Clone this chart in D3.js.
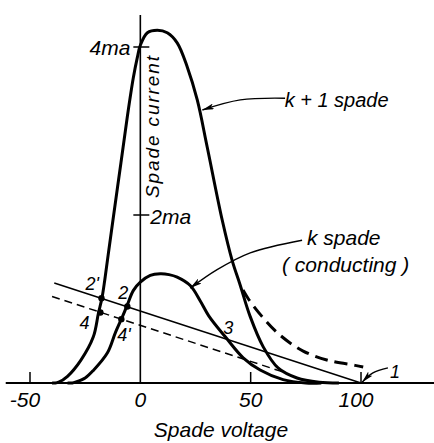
<!DOCTYPE html>
<html><head><meta charset="utf-8">
<script src="https://cdn.jsdelivr.net/npm/d3@7"></script>
<style>
body{margin:0;background:#fff}
svg{display:block}
text{font-family:"Liberation Sans",Arial,sans-serif;font-style:italic;fill:#000}
</style>
</head><body><svg id="c" width="434" height="443"></svg>
<script>
// ---- data (spade voltage in V, spade current in mA) ----
const kPlus1Volts   = [-40, -38.5, -37, -33, -27, -21.3, -19, -17.4, -16.1, -14.5, -12.4, -8.8, -5.9, -3.2, -1.4, 0, 3.2, 7.7, 12.2, 16.7, 21.3, 25.8, 30.3, 37.1, 41.6, 45.2, 49.8, 55.7, 62.4, 71, 81, 90];
const kPlus1Current = [0, 0, 0.01, 0.08, 0.27, 0.55, 0.83, 1.01, 1.23, 1.54, 1.94, 2.62, 3.17, 3.63, 3.87, 4.02, 4.17, 4.2, 4.17, 4.05, 3.76, 3.37, 2.81, 1.94, 1.46, 1.17, 0.79, 0.43, 0.18, 0.06, 0.01, 0];
const kPlus1AltVolts   = [45.2, 49, 55.2, 63.3, 73.8, 85.1, 97.3, 101];
const kPlus1AltCurrent = [1.17, 1.0, 0.79, 0.57, 0.38, 0.27, 0.21, 0.19];
const kVolts   = [-33, -30.8, -29.4, -25, -21.3, -14.9, -11.3, -8.1, -5.9, -3.2, 0, 4.5, 9, 13, 16.7, 22.6, 27.1, 31, 38.5, 46.6, 54.3, 64.7, 75, 82];
const kCurrent = [0, 0, 0.01, 0.06, 0.15, 0.36, 0.6, 0.79, 0.93, 1.1, 1.2, 1.28, 1.3, 1.29, 1.26, 1.16, 0.98, 0.8, 0.55, 0.3, 0.155, 0.04, 0, 0];
const loadLineVolts   = [-39, 100];
const loadLineCurrent = [1.19, 0];
const loadLine2Volts   = [-40, 66];
const loadLine2Current = [1.03, 0.12];
const pointNames   = ["2'", "2", "4", "4'", "3"];
const pointVolts   = [-17.6, -5.9, -18.1, -8.6, 36.2];
const pointCurrent = [1.01, 0.91, 0.84, 0.76, 0.55];
const pointDots    = [true, true, true, true, false];
const xTickValues = [-50, 0, 50, 100];
const xTickLabels = ["-50", "0", "50", "100"];
const yTickValues = [2, 4];
const yTickLabels = ["2ma", "4ma"];

// ---- layout ----
const svg = d3.select("#c");
const W = 434, H = 443;
const x = d3.scaleLinear().domain([-50, 100]).range([30, 361]);
const y = d3.scaleLinear().domain([0, 4]).range([383, 47]);

const defs = svg.append("defs");
defs.append("marker").attr("id","ah").attr("viewBox","0 0 12 6").attr("refX",12).attr("refY",3)
  .attr("markerWidth",12).attr("markerHeight",6).attr("markerUnits","userSpaceOnUse").attr("orient","auto")
  .append("path").attr("d","M0,0 L12,3 L0,6 L3,3 Z").attr("fill","#000");

const g = svg.append("g");
const zip = (a,b) => a.map((v,i)=>[v,b[i]]);
const line = d3.line().x(d=>x(d[0])).y(d=>y(d[1])).curve(d3.curveCatmullRom.alpha(0.5));
const straight = d3.line().x(d=>x(d[0])).y(d=>y(d[1]));

// axes
g.append("line").attr("x1",x(-61)).attr("x2",W).attr("y1",y(0)).attr("y2",y(0)).attr("stroke","#000").attr("stroke-width",2);
g.append("line").attr("x1",x(0)).attr("x2",x(0)).attr("y1",y(4.38)).attr("y2",y(0)).attr("stroke","#000").attr("stroke-width",1.6);
xTickValues.forEach((v,i)=>{
  if (v !== 0) g.append("line").attr("x1",x(v)).attr("x2",x(v)).attr("y1",y(0)-11).attr("y2",y(0)).attr("stroke","#000").attr("stroke-width",1.5);
  g.append("text").attr("x",x(v) + (v < 0 ? -5 : (v >= 100 ? -5 : 0))).attr("y",407).attr("text-anchor","middle").attr("font-size",21).text(xTickLabels[i]);
});
yTickValues.forEach((v,i)=>{
  g.append("line").attr("x1",x(0)-7).attr("x2",x(0)+9).attr("y1",y(v)).attr("y2",y(v)).attr("stroke","#000").attr("stroke-width",1.5);
  if (v === 4) g.append("text").attr("x",x(0)-10).attr("y",y(v)+8).attr("text-anchor","end").attr("font-size",21).text(yTickLabels[i]);
  else g.append("text").attr("x",x(0)+10).attr("y",y(v)+9).attr("text-anchor","start").attr("font-size",21).text(yTickLabels[i]);
});
g.append("text").attr("x",x(0)+19).attr("y",127).attr("transform",`rotate(-90 ${x(0)+19} 127)`).attr("text-anchor","middle")
  .attr("font-size",19).attr("textLength",142).attr("lengthAdjust","spacing").text("Spade current");
g.append("text").attr("x",221).attr("y",437).attr("text-anchor","middle").attr("font-size",21).text("Spade voltage");

// load lines
g.append("path").attr("d",straight(zip(loadLineVolts,loadLineCurrent))).attr("fill","none").attr("stroke","#000").attr("stroke-width",1.5);
g.append("path").attr("d",straight(zip(loadLine2Volts,loadLine2Current))).attr("fill","none").attr("stroke","#000").attr("stroke-width",1.5).attr("stroke-dasharray","8,5");

// curves
g.append("path").attr("d",line(zip(kPlus1Volts,kPlus1Current))).attr("fill","none").attr("stroke","#000").attr("stroke-width",3);
g.append("path").attr("d",line(zip(kVolts,kCurrent))).attr("fill","none").attr("stroke","#000").attr("stroke-width",3);
g.append("path").attr("d",line(zip(kPlus1AltVolts,kPlus1AltCurrent))).attr("fill","none").attr("stroke","#000").attr("stroke-width",3).attr("stroke-dasharray","13,7").attr("stroke-dashoffset",-6);

// points
pointNames.forEach((n,i)=>{
  if (pointDots[i]) g.append("circle").attr("cx",x(pointVolts[i])).attr("cy",y(pointCurrent[i])).attr("r",3.2).attr("fill","#000");
});
const labOff = {"2'":[-16,-8], "2":[-9,-8], "4":[-21,17], "4'":[-4,22], "3":[3,-3]};
pointNames.forEach((n,i)=>{
  g.append("text").attr("x",x(pointVolts[i])+labOff[n][0]).attr("y",y(pointCurrent[i])+labOff[n][1]).attr("font-size",18).text(n);
});

// annotations
const curvy = d3.line().x(d=>x(d[0])).y(d=>y(d[1])).curve(d3.curveCatmullRom);
g.append("path").attr("d",curvy([[65.6,3.39],[45.3,3.37],[28.1,3.25]])).attr("fill","none").attr("stroke","#000").attr("stroke-width",1.4).attr("marker-end","url(#ah)");
g.append("text").attr("x",x(65.4)).attr("y",107).attr("font-size",20).text("k + 1 spade");
g.append("path").attr("d",curvy([[73.3,1.70],[49.8,1.55],[34.8,1.35],[22.6,1.13]])).attr("fill","none").attr("stroke","#000").attr("stroke-width",1.4).attr("marker-end","url(#ah)");
g.append("text").attr("x",307).attr("y",245).attr("font-size",21).text("k spade");
g.append("text").attr("x",282).attr("y",272).attr("font-size",21).text("( conducting )");
g.append("path").attr("d",curvy([[112.2,0.18],[105.4,0.12],[100.5,0.01]])).attr("fill","none").attr("stroke","#000").attr("stroke-width",1.4).attr("marker-end","url(#ah)");
g.append("text").attr("x",390).attr("y",378).attr("font-size",18).text("1");
</script></body></html>
